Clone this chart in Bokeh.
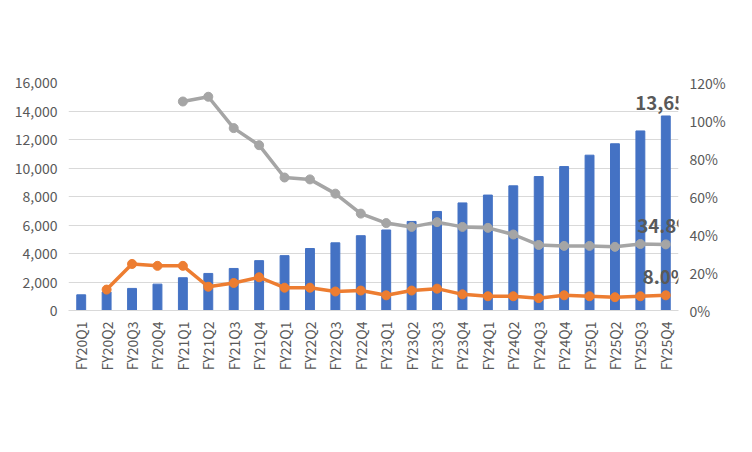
from bokeh.plotting import figure
from bokeh.models import Range1d, LinearAxis, NumeralTickFormatter, Label, Legend, LegendItem, ColumnDataSource, CustomJSTickFormatter, FixedTicker
from bokeh.embed import file_html
from bokeh.resources import INLINE
import math

quarters = [f"FY{y}Q{q}" for y in range(20, 26) for q in range(1, 5)]
members = [1100, 1300, 1550, 1850, 2300, 2600, 2950, 3500, 3850, 4350, 4750, 5250,
           5650, 6250, 6950, 7550, 8100, 8750, 9400, 10100, 10900, 11700, 12600, 13651]
qoq = [None, 11, 24.5, 23.5, 23.5, 12.5, 14.5, 17.5, 12, 12, 10, 10.5,
       8, 10.5, 11.5, 8.5, 7.5, 7.5, 6.5, 8, 7.5, 7, 7.5, 8.0]
yoy = [None, None, None, None, 110, 112.5, 96, 87, 70, 69, 61.5, 51,
       46, 44, 46.5, 44, 43.5, 40, 34.5, 34, 34, 33.5, 35, 34.8]

BLUE, ORANGE, GRAY = "#4472c4", "#ed7d31", "#a5a5a5"
FONT = "Noto Sans CJK JP"

p = figure(x_range=quarters, y_range=Range1d(0, 16000), frame_width=610, frame_height=228,
           output_backend="svg", toolbar_location=None,
           min_border_left=68, min_border_right=50, min_border_top=82, min_border_bottom=12)
p.extra_y_ranges = {"pct": Range1d(0, 120)}
p.outline_line_color = None

src = ColumnDataSource(dict(x=quarters, m=members,
                            q=[float('nan') if v is None else v for v in qoq],
                            y=[float('nan') if v is None else v for v in yoy]))
p.vbar(x="x", top="m", width=0.35, color=BLUE, source=src)
p.line(x="x", y="y", line_color=GRAY, line_width=3.5, y_range_name="pct", source=src)
p.scatter(x="x", y="y", size=9, color=GRAY, y_range_name="pct", source=src)
p.line(x="x", y="q", line_color=ORANGE, line_width=3.5, y_range_name="pct", source=src)
p.scatter(x="x", y="q", size=9, color=ORANGE, y_range_name="pct", source=src)
lg = p.scatter([quarters[0]], [-1000], marker="square", size=9, color=BLUE)
lo = p.scatter([quarters[0]], [-1000], size=9, color=ORANGE)
lgr = p.scatter([quarters[0]], [-1000], size=9, color=GRAY)

p.yaxis[0].ticker = FixedTicker(ticks=list(range(0, 16001, 2000)))
p.yaxis[0].formatter = NumeralTickFormatter(format="0,0")
ax2 = LinearAxis(y_range_name="pct")
ax2.ticker = FixedTicker(ticks=[0, 20, 40, 60, 80, 100, 120])
ax2.formatter = CustomJSTickFormatter(code="return tick + '%';")
p.add_layout(ax2, "right")
for ax in p.yaxis + p.xaxis:
    ax.axis_line_color = None
    ax.major_tick_line_color = None
    ax.minor_tick_line_color = None
    ax.major_label_text_font = FONT
    ax.major_label_text_font_size = "10.5pt"
    ax.major_label_text_color = "#595959"
p.xaxis.axis_line_color = "#d9d9d9"
p.xaxis.major_label_orientation = math.pi / 2
p.xgrid.grid_line_color = None
p.ygrid.grid_line_color = "#d9d9d9"

for txt, y, rng in [("13,651", 13651, "default"), ("34.8%", 34.8, "pct"), ("8.0%", 8.0, "pct")]:
    p.add_layout(Label(x=23.5, y=y, text=txt, y_range_name=rng, text_align="center",
                       text_font=FONT, text_font_style="bold", text_font_size="14pt",
                       text_color="#595959", y_offset=6))

p.add_layout(Label(x=185, y=270, x_units="screen", y_units="screen", text="会員数",
                   text_font=FONT, text_font_style="bold", text_font_size="15pt", text_color="#595959"))
p.add_layout(Label(x=285, y=272, x_units="screen", y_units="screen", text="※単位千人",
                   text_font=FONT, text_font_style="bold", text_font_size="12.5pt", text_color="#595959"))

legend = Legend(items=[LegendItem(label="会員数", renderers=[lg]),
                       LegendItem(label="前四半期比", renderers=[lo]),
                       LegendItem(label="前年同期比", renderers=[lgr])],
                orientation="horizontal", location="center", label_text_font=FONT,
                label_text_font_size="10.5pt", label_text_color="#595959",
                border_line_color=None, spacing=30)
p.add_layout(legend, "below")

open("out.html", "w").write(file_html(p, INLINE))
